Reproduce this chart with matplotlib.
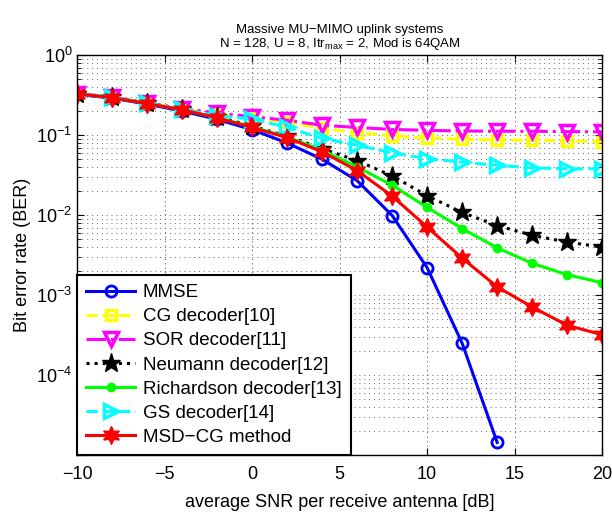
import matplotlib.pyplot as plt
import numpy as np

plt.rcParams['font.family'] = ['Liberation Sans', 'DejaVu Sans']
plt.rcParams['mathtext.fontset'] = 'custom'
plt.rcParams['mathtext.rm'] = 'Liberation Sans'
plt.rcParams['mathtext.it'] = 'Liberation Sans'

snr = [-10, -8, -6, -4, -2, 0, 2, 4, 6, 8, 10, 12, 14, 16, 18, 20]
snr_mmse = snr[:13]

ber_mmse = [0.325, 0.29, 0.245, 0.20, 0.158, 0.117, 0.080, 0.050, 0.027, 0.0099, 0.0022, 0.00025, 1.44e-5]
ber_cg = [0.33, 0.30, 0.255, 0.215, 0.185, 0.165, 0.145, 0.122, 0.108, 0.098, 0.092, 0.089, 0.087, 0.086, 0.085, 0.083]
ber_sor = [0.33, 0.30, 0.255, 0.215, 0.19, 0.17, 0.154, 0.133, 0.125, 0.118, 0.115, 0.113, 0.112, 0.112, 0.111, 0.110]
ber_neumann = [0.33, 0.30, 0.25, 0.21, 0.17, 0.13, 0.097, 0.068, 0.048, 0.031, 0.0175, 0.0108, 0.0074, 0.0056, 0.0046, 0.0040]
ber_richardson = [0.33, 0.295, 0.25, 0.208, 0.166, 0.127, 0.095, 0.065, 0.040, 0.0237, 0.0125, 0.0068, 0.0039, 0.0025, 0.0018, 0.00143]
ber_gs = [0.33, 0.30, 0.25, 0.21, 0.175, 0.16, 0.125, 0.091, 0.075, 0.060, 0.051, 0.046, 0.042, 0.039, 0.038, 0.038]
ber_msdcg = [0.33, 0.295, 0.248, 0.208, 0.165, 0.125, 0.093, 0.062, 0.036, 0.0173, 0.0071, 0.0029, 0.00127, 0.00071, 0.00042, 0.00032]

fig = plt.figure(figsize=(6.12, 5.16), dpi=100)
ax = fig.add_axes([0.126, 0.118, 0.858, 0.775])

lw = 2.2
ax.semilogy(snr_mmse, ber_mmse, '-o', color=(0, 0, 1), lw=lw, ms=8,
            mfc='none', mew=2, label='MMSE')
ax.semilogy(snr, ber_cg, '--s', color=(1, 1, 0), lw=lw, ms=7,
            mfc='none', mew=2.5, label='CG decoder[10]')
ax.semilogy(snr, ber_sor, '-.v', color=(1, 0, 1), lw=lw, ms=10,
            mfc='none', mew=2.5, label='SOR decoder[11]')
ax.semilogy(snr, ber_neumann, ':*', color='k', lw=lw, ms=14,
            label='Neumann decoder[12]')
ax.semilogy(snr, ber_richardson, '-o', color=(0, 1, 0), lw=lw, ms=6,
            label='Richardson decoder[13]')
ax.semilogy(snr, ber_gs, '-->', color=(0, 1, 1), lw=lw, ms=10,
            mfc='none', mew=2.5, label='GS decoder[14]')
ax.semilogy(snr, ber_msdcg, '-', marker=(6, 1, 0), color=(1, 0, 0), lw=lw, ms=13,
            label='MSD\u2212CG method')

ax.set_xlim(-10, 20)
ax.set_ylim(1e-5, 1)
ax.set_xticks([-10, -5, 0, 5, 10, 15, 20])
ax.set_xticklabels(['\u221210', '\u22125', '0', '5', '10', '15', '20'])
ax.set_yticks([1e-5, 1e-4, 1e-3, 1e-2, 1e-1, 1])
ax.set_yticklabels(['', '$10^{-4}$', '$10^{-3}$', '$10^{-2}$', '$10^{-1}$', '$10^{0}$'])
ax.tick_params(which='both', direction='in', top=True, right=True, labelsize=13)
ax.tick_params(which='major', length=5)
ax.tick_params(which='minor', length=3)
ax.tick_params(axis='x', pad=8)

ax.grid(which='major', axis='x', linestyle=(0, (1, 3)), color='0.4', lw=0.8)
ax.grid(which='both', axis='y', linestyle=(0, (1, 4)), color='0.4', lw=0.7)
for s in ax.spines.values():
    s.set_linewidth(1.0)

ax.set_xlabel('average SNR per receive antenna [dB]', fontsize=13, labelpad=8)
ax.set_ylabel('Bit error rate (BER)', fontsize=13)
ax.set_title('Massive MU\u2212MIMO uplink systems\nN = 128, U = 8, Itr$_{max}$ = 2, Mod is 64QAM',
             fontsize=9.5, linespacing=1.0, pad=6)

leg = ax.legend(loc='lower left', fontsize=13.5, borderaxespad=0, handlelength=2.6,
                labelspacing=0.37, fancybox=False, framealpha=1, edgecolor='k',
                borderpad=0.5, handletextpad=0.4)
leg.get_frame().set_linewidth(1.5)

fig.savefig('out.png', dpi=100)
plt.close('all')
